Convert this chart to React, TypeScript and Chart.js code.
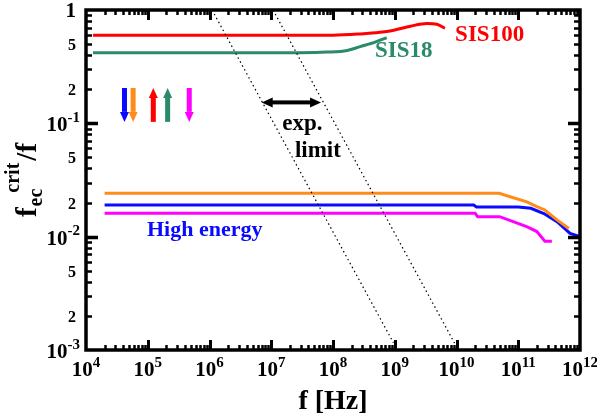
import React, { useEffect, useRef } from 'react';
import { Chart, registerables } from 'chart.js';

Chart.register(...registerables);

// ---------- data ----------
const sis100X = [1.3e4, 1e6, 1e7, 1e8, 2.8e8, 5.8e8, 9.3e8, 1.8e9, 3.3e9, 4.8e9, 6.5e9];
const sis100Y = [0.6, 0.6, 0.6, 0.6, 0.615, 0.635, 0.66, 0.72, 0.76, 0.75, 0.69];

const sis18X = [1.3e4, 1e6, 1e7, 3e7, 8e7, 1.7e8, 2.75e8, 4.8e8, 7.4e8];
const sis18Y = [0.42, 0.42, 0.42, 0.42, 0.425, 0.44, 0.475, 0.52, 0.57];

const orangeX = [2e4, 4.9e10, 7.4e10, 1.38e11, 2e11, 2.7e11, 4.3e11, 6.6e11];
const orangeY = [0.0241, 0.0241, 0.0225, 0.0203, 0.0184, 0.0172, 0.014, 0.0118];

const blueX = [2e4, 1.9e10, 2.1e10, 1e11, 1.6e11, 2.6e11, 4.3e11, 6.9e11, 1e12];
const blueY = [0.019, 0.019, 0.0183, 0.0183, 0.0178, 0.016, 0.0135, 0.0107, 0.01];

const magentaX = [2e4, 2e10, 2.2e10, 5e10, 8.5e10, 1.4e11, 2e11, 2.7e11, 3.5e11];
const magentaY = [0.0161, 0.0161, 0.015, 0.015, 0.0135, 0.0122, 0.0111, 0.0091, 0.0091];

const limit1X = [1.1e6, 9.5e8];
const limit1Y = [1, 0.00116];
const limit2X = [1.07e7, 9.3e9];
const limit2Y = [1, 0.00115];

const xTickExponents = ['4', '5', '6', '7', '8', '9', '10', '11', '12'];
const xTickValues = [1e4, 1e5, 1e6, 1e7, 1e8, 1e9, 1e10, 1e11, 1e12];

const yLabelValues = [1, 0.5, 0.2, 0.1, 0.05, 0.02, 0.01, 0.005, 0.002, 0.001];
const yLabelBases = ['1', '5', '2', '10', '5', '2', '10', '5', '2', '10'];
const yLabelExps = ['', '', '', '-1', '', '', '-2', '', '', '-3'];

const arrowXs = [4.2e4, 5.8e4, 1.23e5, 2.1e5, 4.7e5];
const arrowUp = [false, false, true, true, false];
const arrowLow = 0.103;
const arrowHigh = 0.205;

const limitArrowX = [7.0e6, 6.4e7];
const limitArrowY = 0.153;

const RED = '#ff0000';
const GREEN = '#2a8a6a';
const ORANGE = '#ff8c1a';
const BLUE = '#0a0aff';
const MAGENTA = '#ff00ff';
const arrowColors = [BLUE, ORANGE, RED, GREEN, MAGENTA];

const FONT = '"Liberation Serif", "Times New Roman", serif';

const pts = (xs: number[], ys: number[]) => xs.map((x, i) => ({ x, y: ys[i] }));

function drawSup(ctx: CanvasRenderingContext2D, base: string, exp: string, cx: number, baseline: number,
  baseSize: number, supSize: number, align: 'center' | 'right') {
  ctx.font = `bold ${baseSize}px ${FONT}`;
  const wb = ctx.measureText(base).width;
  ctx.font = `bold ${supSize}px ${FONT}`;
  const we = exp ? ctx.measureText(exp).width : 0;
  const total = wb + we;
  const left = align === 'center' ? cx - total / 2 : cx - total;
  ctx.textAlign = 'left';
  ctx.textBaseline = 'alphabetic';
  ctx.font = `bold ${baseSize}px ${FONT}`;
  ctx.fillText(base, left, baseline);
  if (exp) {
    ctx.font = `bold ${supSize}px ${FONT}`;
    ctx.fillText(exp, left + wb, baseline - baseSize * 0.45);
  }
}

function vArrow(ctx: CanvasRenderingContext2D, x: number, tail: number, head: number, color: string) {
  const dir = head > tail ? 1 : -1;
  const headL = 10, headW = 9, shaftW = 5;
  const hb = head - dir * headL;
  ctx.fillStyle = color;
  ctx.fillRect(x - shaftW / 2, Math.min(tail, hb), shaftW, Math.abs(hb - tail));
  ctx.beginPath();
  ctx.moveTo(x - headW / 2, hb);
  ctx.lineTo(x + headW / 2, hb);
  ctx.lineTo(x, head);
  ctx.closePath();
  ctx.fill();
}

const framePlugin = {
  id: 'frame',
  afterDatasetsDraw(chart: any) {
    const { ctx, chartArea: a, scales } = chart;
    const xs = scales.x, ys = scales.y;
    ctx.save();

    // colored direction arrows
    arrowXs.forEach((v, i) => {
      const px = xs.getPixelForValue(v);
      const pLow = ys.getPixelForValue(arrowLow);
      const pHigh = ys.getPixelForValue(arrowHigh);
      if (arrowUp[i]) vArrow(ctx, px, pLow, pHigh, arrowColors[i]);
      else vArrow(ctx, px, pHigh, pLow, arrowColors[i]);
    });

    // double-headed black arrow
    {
      const x1 = xs.getPixelForValue(limitArrowX[0]);
      const x2 = xs.getPixelForValue(limitArrowX[1]);
      const py = ys.getPixelForValue(limitArrowY);
      const hl = 11, hw = 10, sw = 4;
      ctx.fillStyle = '#000';
      ctx.fillRect(x1 + hl - 1, py - sw / 2, x2 - x1 - 2 * hl + 2, sw);
      ctx.beginPath();
      ctx.moveTo(x1, py); ctx.lineTo(x1 + hl, py - hw / 2); ctx.lineTo(x1 + hl, py + hw / 2); ctx.closePath(); ctx.fill();
      ctx.beginPath();
      ctx.moveTo(x2, py); ctx.lineTo(x2 - hl, py - hw / 2); ctx.lineTo(x2 - hl, py + hw / 2); ctx.closePath(); ctx.fill();
    }

    // annotation texts
    ctx.textBaseline = 'alphabetic';
    ctx.textAlign = 'center';
    ctx.fillStyle = '#000';
    ctx.font = `bold 23px ${FONT}`;
    ctx.fillText('exp.', xs.getPixelForValue(3.2e7), ys.getPixelForValue(0.087));
    ctx.fillText('limit', xs.getPixelForValue(5.7e7), ys.getPixelForValue(0.05));

    ctx.textAlign = 'left';
    ctx.textBaseline = 'middle';
    ctx.font = `bold 23px ${FONT}`;
    ctx.fillStyle = RED;
    ctx.fillText('SIS100', xs.getPixelForValue(9.5e9), ys.getPixelForValue(0.6));
    ctx.fillStyle = GREEN;
    ctx.fillText('SIS18', xs.getPixelForValue(4.8e8), ys.getPixelForValue(0.43));
    ctx.fillStyle = BLUE;
    ctx.font = `bold 22px ${FONT}`;
    ctx.fillText('High energy', xs.getPixelForValue(9.7e4), ys.getPixelForValue(0.0114));

    // ticks
    ctx.strokeStyle = '#000';
    ctx.lineCap = 'butt';
    for (let d = 4; d < 12; d++) {
      for (let m = 1; m <= 9; m++) {
        const v = m * Math.pow(10, d);
        if (v <= 1e4 * 1.0001 || v >= 1e12 * 0.9999) continue;
        const px = Math.round(xs.getPixelForValue(v)) + 0.5;
        const len = m === 1 ? 10 : 5;
        ctx.lineWidth = m === 1 ? 3 : 2.5;
        ctx.beginPath();
        ctx.moveTo(px, a.bottom); ctx.lineTo(px, a.bottom - len);
        ctx.moveTo(px, a.top); ctx.lineTo(px, a.top + len);
        ctx.stroke();
      }
    }
    for (let d = -3; d < 0; d++) {
      for (let m = 1; m <= 9; m++) {
        const v = m * Math.pow(10, d);
        if (v <= 1e-3 * 1.0001 || v >= 0.9999) continue;
        const py = Math.round(ys.getPixelForValue(v)) + 0.5;
        const len = m === 1 ? 12 : 6;
        ctx.lineWidth = m === 1 ? 3.5 : 2.5;
        ctx.beginPath();
        ctx.moveTo(a.left, py); ctx.lineTo(a.left + len, py);
        ctx.moveTo(a.right, py); ctx.lineTo(a.right - len, py);
        ctx.stroke();
      }
    }

    // frame
    ctx.lineWidth = 3.5;
    ctx.strokeRect(a.left, a.top, a.right - a.left, a.bottom - a.top);

    // x tick labels
    ctx.fillStyle = '#000';
    xTickValues.forEach((v, i) => {
      drawSup(ctx, '10', xTickExponents[i], xs.getPixelForValue(v), a.bottom + 26, 21, 15, 'center');
    });
    // y tick labels
    yLabelValues.forEach((v, i) => {
      const py = ys.getPixelForValue(v);
      if (yLabelExps[i]) {
        drawSup(ctx, yLabelBases[i], yLabelExps[i], a.left - 6, py + 8, 21, 15, 'right');
      } else if (yLabelBases[i] === '1') {
        drawSup(ctx, '1', '', a.left - 10, py + 7, 21, 14, 'right');
      } else {
        drawSup(ctx, yLabelBases[i], '', a.left - 10, py + 6, 16, 12, 'right');
      }
    });

    // x axis title
    ctx.textAlign = 'center';
    ctx.textBaseline = 'alphabetic';
    ctx.font = `bold 28px ${FONT}`;
    ctx.fillText('f [Hz]', (a.left + a.right) / 2, 409);

    // y axis title (rotated)
    ctx.save();
    ctx.translate(36, 180);
    ctx.rotate(-Math.PI / 2);
    const parts = [
      { t: 'f', s: 29, dy: 0 },
      { t: 'ec', s: 20, dy: 6 },
      { t: 'crit', s: 20, dy: -17 },
      { t: '/f', s: 29, dy: 0 },
    ];
    let total = 0;
    const widths = parts.map(p => { ctx.font = `bold ${p.s}px ${FONT}`; const w = ctx.measureText(p.t).width; total += w; return w; });
    const gaps = [1, -4, 2, 0];
    total += gaps.reduce((s, g) => s + g, 0);
    let cx = -total / 2;
    ctx.textAlign = 'left';
    parts.forEach((p, i) => {
      ctx.font = `bold ${p.s}px ${FONT}`;
      ctx.fillText(p.t, cx, p.dy);
      cx += widths[i] + gaps[i];
    });
    ctx.restore();

    ctx.restore();
  },
};

export default function App() {
  const ref = useRef<HTMLCanvasElement>(null);
  useEffect(() => {
    document.body.style.margin = '0';
    const line = (data: any, color: string, extra: any = {}) => ({
      data, borderColor: color, backgroundColor: color, borderWidth: 3, pointRadius: 0, fill: false, tension: 0, ...extra,
    });
    const chart = new Chart(ref.current!, {
      type: 'line',
      data: {
        datasets: [
          line(pts(limit1X, limit1Y), '#000', { borderWidth: 1.2, borderDash: [1.5, 3] }),
          line(pts(limit2X, limit2Y), '#000', { borderWidth: 1.2, borderDash: [1.5, 3] }),
          line(pts(sis100X, sis100Y), RED, { cubicInterpolationMode: 'monotone' }),
          line(pts(sis18X, sis18Y), GREEN, { cubicInterpolationMode: 'monotone' }),
          line(pts(orangeX, orangeY), ORANGE),
          line(pts(blueX, blueY), BLUE),
          line(pts(magentaX, magentaY), MAGENTA),
        ],
      },
      options: {
        responsive: false,
        animation: false,
        layout: { padding: { left: 86, top: 10, right: 17, bottom: 68 } },
        plugins: { legend: { display: false }, tooltip: { enabled: false } },
        scales: {
          x: { type: 'logarithmic', min: 1e4, max: 1e12, display: false },
          y: { type: 'logarithmic', min: 1e-3, max: 1, display: false },
        },
      },
      plugins: [framePlugin],
    });
    return () => chart.destroy();
  }, []);
  return (
    <div style={{ position: 'absolute', left: 0, top: 0, width: 597, height: 418, background: '#fff' }}>
      <canvas ref={ref} width={597} height={418} />
    </div>
  );
}
